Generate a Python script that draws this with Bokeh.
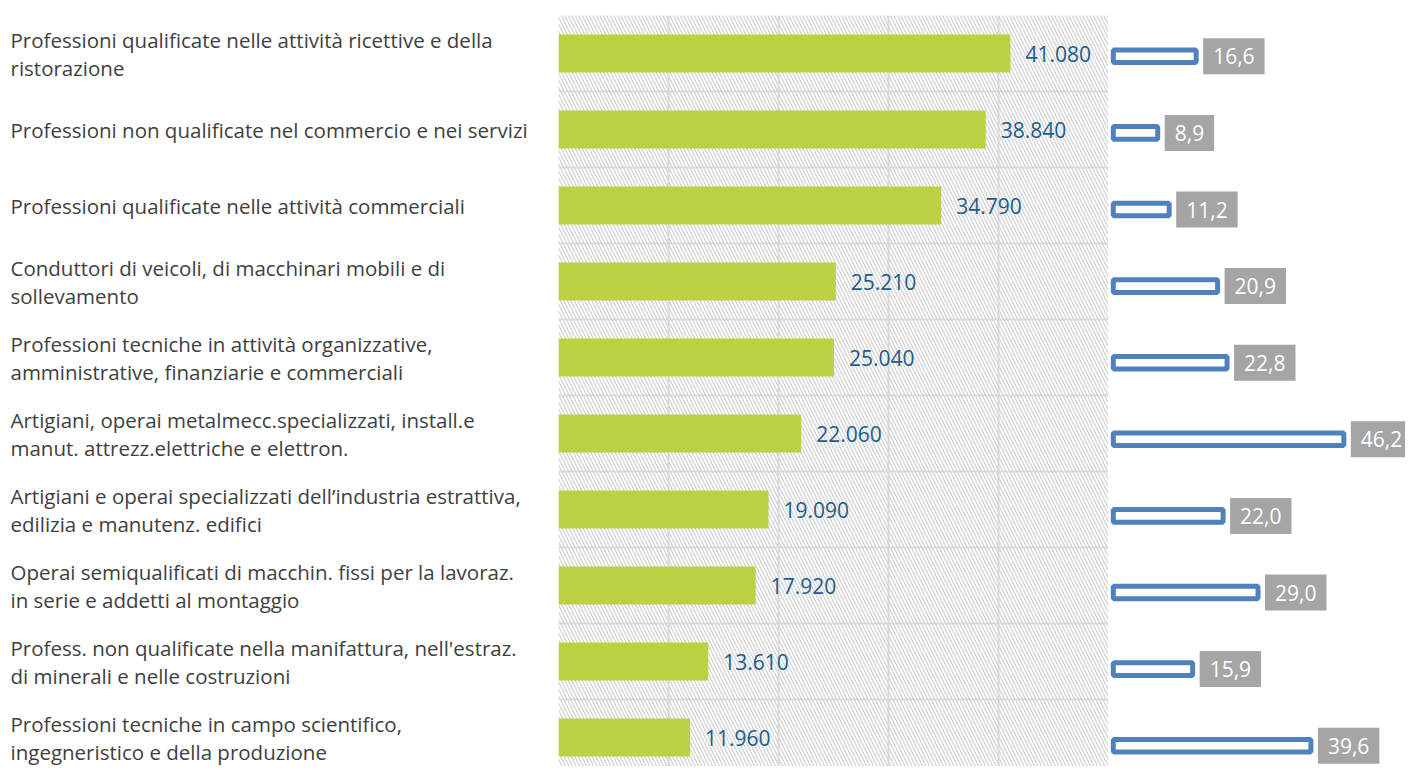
from bokeh.plotting import figure
from bokeh.layouts import row
from bokeh.models import Range1d, Grid, FixedTicker, ColumnDataSource
from bokeh.core.properties import value
from bokeh.embed import file_html
from bokeh.resources import INLINE

categories = [
    "Professioni qualificate nelle attività ricettive e della\nristorazione",
    "Professioni non qualificate nel commercio e nei servizi",
    "Professioni qualificate nelle attività commerciali",
    "Conduttori di veicoli, di macchinari mobili e di\nsollevamento",
    "Professioni tecniche in attività organizzative,\namministrative, finanziarie e commerciali",
    "Artigiani, operai metalmecc.specializzati, install.e\nmanut. attrezz.elettriche e elettron.",
    "Artigiani e operai specializzati dell\u2019industria estrattiva,\nedilizia e manutenz. edifici",
    "Operai semiqualificati di macchin. fissi per la lavoraz.\nin serie e addetti al montaggio",
    "Profess. non qualificate nella manifattura, nell'estraz.\ndi minerali e nelle costruzioni",
    "Professioni tecniche in campo scientifico,\ningegneristico e della produzione",
]
entrate = [41080, 38840, 34790, 25210, 25040, 22060, 19090, 17920, 13610, 11960]
difficolta = [16.6, 8.9, 11.2, 20.9, 22.8, 46.2, 22.0, 29.0, 15.9, 39.6]
x_ticks = [0, 10000, 20000, 30000, 40000, 50000]

FONT = "Open Sans"
idx = list(range(len(categories)))

src = ColumnDataSource(dict(
    y=idx,
    cat=categories,
    ent=entrate,
    ent_lbl=[f"{v:,}".replace(",", ".") for v in entrate],
    diff=difficolta,
    diff_lbl=[f"{v:.1f}".replace(".", ",") for v in difficolta],
    zero=[0] * len(idx),
))

H = 766
TOP = 15
ROW = 76.0
y_main = Range1d(start=-0.5 + (H - TOP) / ROW, end=-0.5)

def base_fig(width, x_range, y_range):
    f = figure(width=width, height=H, x_range=x_range, y_range=y_range,
               output_backend="svg", toolbar_location=None,
               x_axis_location=None, y_axis_location=None,
               min_border_left=0, min_border_right=0,
               min_border_top=TOP, min_border_bottom=0)
    f.grid.visible = False
    f.outline_line_color = None
    f.background_fill_color = "white"
    f.border_fill_color = "white"
    return f

# left category labels
pl = base_fig(558, Range1d(-10, 548), y_main)
pl.text(x=0, y="y", text="cat", source=src, text_font=value(FONT),
        text_font_size="20.5px", text_color="#404040", text_align="left",
        text_baseline="middle", text_line_height=1.0, y_offset=0)

# main green bars
pm = base_fig(550, Range1d(0, 50000), y_main)
pm.quad(left=0, right=50000, bottom=9.6, top=-0.6, fill_alpha=0, line_alpha=0,
        hatch_pattern="\\", hatch_color="#D3D3D3", hatch_scale=7,
        hatch_weight=1.3, level="image")
pm.add_layout(Grid(dimension=0, ticker=FixedTicker(ticks=x_ticks),
                   grid_line_color="#D9D9D9", grid_line_width=2))
pm.add_layout(Grid(dimension=1, ticker=FixedTicker(ticks=[i - 0.5 for i in range(11)]),
                   grid_line_color="#D9D9D9", grid_line_width=2))
pm.hbar(y="y", left="zero", right="ent", height=0.5, source=src,
        fill_color="#BCD042", line_color=None)
pm.text(x="ent", y="y", text="ent_lbl", source=src, x_offset=15,
        text_font=value(FONT), text_font_size="21px", text_color="#1F5C8B",
        text_align="left", text_baseline="middle")

# right blue bars (secondary chart)
SCALE = 4.99
x0 = -4.8 / SCALE
ROW2 = 76.6
y_top2 = -(55.8 - TOP) / ROW2
pr = base_fig(297, Range1d(x0, x0 + 297 / SCALE),
              Range1d(start=y_top2 + (H - TOP) / ROW2, end=y_top2))
pr.hbar(y="y", left="zero", right="diff", height=12.6 / ROW2, source=src,
        fill_color="white", line_color="#4F81BD", line_width=5)
pr.text(x="diff", y="y", text="diff_lbl", source=src, x_offset=7,
        text_font=value(FONT), text_font_size="21px", text_color="white",
        text_align="left", text_baseline="middle",
        background_fill_color="#A5A5A5", padding=(10, 10))

layout = row(pl, pm, pr, spacing=0)
open("out.html", "w").write(file_html(layout, INLINE))
